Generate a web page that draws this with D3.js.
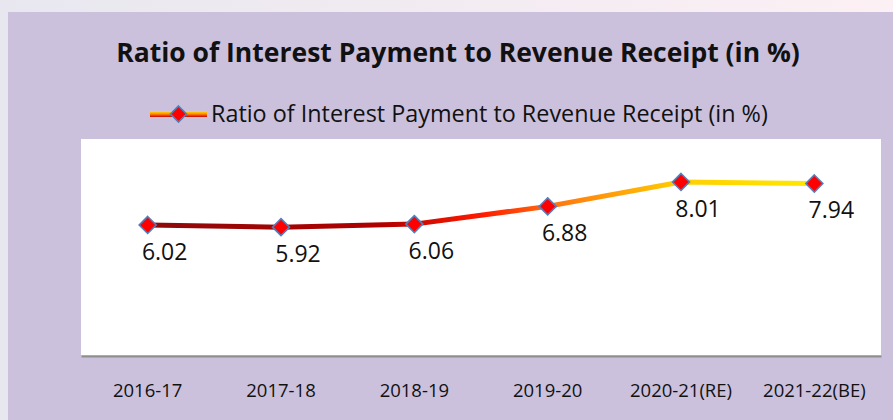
<!DOCTYPE html>
<html><head><meta charset="utf-8">
<script src="https://cdn.jsdelivr.net/npm/d3@7"></script>
<style>html,body{margin:0;padding:0;overflow:hidden;background:#fff}</style>
</head><body><svg id="c" width="893" height="420"></svg>
<script>
const categories = ["2016-17","2017-18","2018-19","2019-20","2020-21(RE)","2021-22(BE)"];
const values = [6.02, 5.92, 6.06, 6.88, 8.01, 7.94];
const seriesName = "Ratio of Interest Payment to Revenue Receipt (in %)";
const title = "Ratio of Interest Payment to Revenue Receipt (in %)";
const yDomain = [0, 10];

const svg = d3.select("#c");
const W = 893, H = 420;
const font = "'Open Sans','Noto Sans',sans-serif";
const defs = svg.append("defs");

// outer background
const bg = defs.append("linearGradient").attr("id","bg").attr("x1","0").attr("x2","1").attr("y1","0").attr("y2","0");
bg.append("stop").attr("offset","0").attr("stop-color","#e8e7ef");
bg.append("stop").attr("offset","1").attr("stop-color","#fcf0f4");
svg.append("rect").attr("width",W).attr("height",H).attr("fill","url(#bg)");
// purple panel
svg.append("rect").attr("x",8).attr("y",12).attr("width",W-8).attr("height",H-12).attr("fill","#cbc1dc");

const plot = {l:81, r:881, t:139, b:355};
svg.append("rect").attr("x",plot.l).attr("y",plot.t).attr("width",plot.r-plot.l).attr("height",plot.b-plot.t).attr("fill","#ffffff");

const x = d3.scaleBand().domain(categories).range([plot.l, plot.r]);
const y = d3.scaleLinear().domain(yDomain).range([plot.b, plot.t]);
const cx = d => x(d) + x.bandwidth()/2;

// axis
const xAxis = svg.append("g").attr("transform",`translate(0,${plot.b})`)
  .call(d3.axisBottom(x).tickSize(0).tickPadding(29));
xAxis.select(".domain").attr("stroke","#8f8f8f").attr("stroke-width",2).attr("transform","translate(0,1)");
xAxis.selectAll("text").attr("font-family",font).attr("font-size",18.5).attr("fill","#111");

// line gradient
const lg = defs.append("linearGradient").attr("id","lg").attr("gradientUnits","userSpaceOnUse")
  .attr("x1",cx(categories[0])).attr("x2",cx(categories[categories.length-1])).attr("y1",0).attr("y2",0);
[[0,"#8e0a0a"],[0.35,"#b00000"],[0.5,"#ff1a00"],[0.62,"#ff7a10"],[0.8,"#ffcf00"],[1,"#ffe800"]]
  .forEach(([o,c])=>lg.append("stop").attr("offset",o).attr("stop-color",c));

const line = d3.line().x((d,i)=>cx(categories[i])).y(d=>y(d));
svg.append("path").datum(values).attr("d",line).attr("fill","none")
  .attr("stroke","url(#lg)").attr("stroke-width",5).attr("stroke-linejoin","round");

const diamond = (px,py,r)=>`M${px},${py-r}L${px+r},${py}L${px},${py+r}L${px-r},${py}Z`;
svg.append("g").selectAll("path").data(values).join("path")
  .attr("d",(d,i)=>diamond(cx(categories[i]), y(d), 8.5))
  .attr("fill","#ff0000").attr("stroke","#4f81bd").attr("stroke-width",1.6);

svg.append("g").selectAll("text").data(values).join("text")
  .attr("x",(d,i)=>cx(categories[i])+17).attr("y",d=>y(d)+35)
  .attr("text-anchor","middle").attr("font-family",font).attr("font-size",23).attr("fill","#111")
  .text(d=>d.toFixed(2));

// title
const t = svg.append("text").attr("x",458).attr("y",62).attr("text-anchor","middle")
  .attr("font-family",font).attr("font-weight","bold").attr("font-size",24).attr("fill","#111").text(title);
const tw = t.node().getComputedTextLength();
t.attr("font-size", 24*684/tw);

// legend
const lgv = defs.append("linearGradient").attr("id","lgv").attr("x1","0").attr("x2","0").attr("y1","0").attr("y2","1");
[[0,"#ffe800"],[0.5,"#ff8a00"],[1,"#d00000"]].forEach(([o,c])=>lgv.append("stop").attr("offset",o).attr("stop-color",c));
svg.append("rect").attr("x",150).attr("y",111).attr("width",57).attr("height",6).attr("fill","url(#lgv)");
svg.append("path").attr("d",diamond(178.5,114,8)).attr("fill","#ff0000").attr("stroke","#4f81bd").attr("stroke-width",1.6);
const lt = svg.append("text").attr("x",211).attr("y",122).attr("font-family",font).attr("font-size",20).attr("fill","#111").text(seriesName);
const lw = lt.node().getComputedTextLength();
lt.attr("font-size", 20*557/lw);
</script></body></html>
